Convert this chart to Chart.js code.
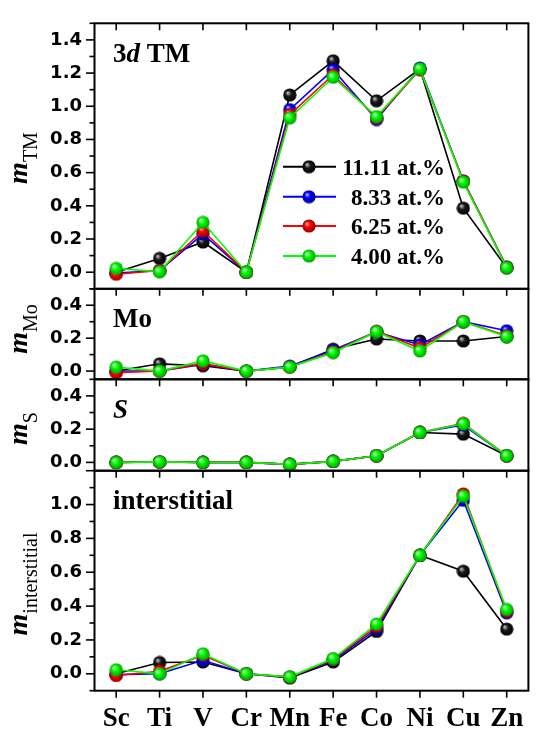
<!DOCTYPE html>
<html><head><meta charset="utf-8">
<script src="https://cdn.jsdelivr.net/npm/chart.js@4.4.1/dist/chart.umd.min.js"></script>
<style>
html,body{margin:0;padding:0;background:#fff;}
#wrap{position:relative;width:537px;height:731px;background:#fff;}
canvas{position:absolute;left:0;top:0;}
</style></head><body><div id="wrap">
<canvas id="c1" width="537" height="731"></canvas>
<canvas id="c2" width="537" height="731"></canvas>
<canvas id="c3" width="537" height="731"></canvas>
<canvas id="c4" width="537" height="731"></canvas>
</div>
<script>
// ---- data ----
const elements = ['Sc','Ti','V','Cr','Mn','Fe','Co','Ni','Cu','Zn'];
const seriesNames = ['11.11 at.%','8.33 at.%','6.25 at.%','4.00 at.%'];

const tm_1111 = [0.00, 0.083, 0.182, 0.00, 1.068, 1.274, 1.033, 1.225, 0.386, 0.027];
const tm_833  = [-0.005, 0.010, 0.230, 0.00, 0.980, 1.220, 0.920, 1.230, 0.550, 0.030];
const tm_625  = [-0.012, 0.010, 0.250, 0.00, 0.950, 1.190, 0.930, 1.220, 0.550, 0.030];
const tm_400  = [0.023, 0.003, 0.300, 0.00, 0.930, 1.175, 0.938, 1.225, 0.543, 0.027];

const mo_1111 = [0.00, 0.044, 0.032, 0.00, 0.025, 0.133, 0.195, 0.183, 0.183, 0.210];
const mo_833  = [0.00, 0.000, 0.040, 0.00, 0.030, 0.128, 0.238, 0.159, 0.300, 0.245];
const mo_625  = [-0.010, 0.000, 0.045, 0.00, 0.025, 0.118, 0.242, 0.140, 0.300, 0.215];
const mo_400  = [0.024, 0.000, 0.062, 0.00, 0.024, 0.112, 0.239, 0.122, 0.300, 0.209];

const s_1111 = [0.00, 0.003, 0.00, 0.00, -0.012, 0.006, 0.040, 0.180, 0.170, 0.040];
const s_833  = [0.00, 0.003, 0.00, 0.00, -0.012, 0.006, 0.040, 0.180, 0.225, 0.040];
const s_625  = [0.00, 0.003, 0.00, 0.00, -0.012, 0.006, 0.040, 0.180, 0.235, 0.040];
const s_400  = [0.00, 0.003, 0.00, 0.00, -0.012, 0.006, 0.040, 0.180, 0.232, 0.040];

const int_1111 = [0.00, 0.067, 0.070, 0.00, -0.025, 0.070, 0.250, 0.700, 0.606, 0.264];
const int_833  = [-0.005, 0.000, 0.080, 0.00, -0.020, 0.080, 0.265, 0.700, 1.025, 0.360];
const int_625  = [-0.010, 0.015, 0.110, 0.00, -0.020, 0.085, 0.280, 0.700, 1.063, 0.370];
const int_400  = [0.024, 0.000, 0.118, 0.00, -0.018, 0.090, 0.294, 0.700, 1.050, 0.380];

const tmTicks  = [0.0, 0.2, 0.4, 0.6, 0.8, 1.0, 1.2, 1.4];
const moTicks  = [0.0, 0.2, 0.4];
const sTicks   = [0.0, 0.2, 0.4];
const intTicks = [0.0, 0.2, 0.4, 0.6, 0.8, 1.0];

// ---- styles ----
const colors = ['#000000', '#0000ff', '#ff0000', '#00ff00'];
const sphereSpec = [
  ['#c8c8c8', '#1a1a1a', '#000000'],
  ['#b0b0ff', '#0000ff', '#000090'],
  ['#ffb0b0', '#ff0000', '#960000'],
  ['#e0ffe0', '#00ff00', '#00a000']
];
function sphere(spec) {
  const c = document.createElement('canvas');
  c.width = 14; c.height = 14;
  const g = c.getContext('2d');
  const grd = g.createRadialGradient(4.8, 4.6, 0.3, 7, 7, 6.8);
  grd.addColorStop(0, spec[0]);
  grd.addColorStop(0.4, spec[1]);
  grd.addColorStop(1, spec[2]);
  g.fillStyle = grd;
  g.beginPath(); g.arc(7, 7, 6.6, 0, Math.PI * 2); g.fill();
  return c;
}
const spheres = sphereSpec.map(sphere);

const SERIF = '"Liberation Serif", "Times New Roman", serif';
const W = 537, H = 731;
const LEFT = 94.5, RIGHT_PAD = 1.5;

const panels = [
  {id: 'c1', series: [tm_1111, tm_833, tm_625, tm_400], ticks: tmTicks, min: -0.1, max: 1.5,
   top: 13.5, bottom: 288.8, sub: 'TM', titleY: 158, label: '3d'},
  {id: 'c2', series: [mo_1111, mo_833, mo_625, mo_400], ticks: moTicks, min: -0.05, max: 0.5,
   top: 288.8, bottom: 379.3, sub: 'Mo', titleY: 329, label: 'Mo'},
  {id: 'c3', series: [s_1111, s_833, s_625, s_400], ticks: sTicks, min: -0.05, max: 0.5,
   top: 379.3, bottom: 470.7, sub: 'S', titleY: 428.5, label: 'S'},
  {id: 'c4', series: [int_1111, int_833, int_625, int_400], ticks: intTicks, min: -0.1, max: 1.2,
   top: 470.7, bottom: 690.7, sub: 'interstitial', titleY: 584, label: 'interstitial', showX: true}
];

function line(ctx, x1, y1, x2, y2) { ctx.beginPath(); ctx.moveTo(x1, y1); ctx.lineTo(x2, y2); ctx.stroke(); }

function drawYTitle(ctx, sub, cy) {
  ctx.save();
  ctx.translate(27, cy);
  ctx.rotate(-Math.PI / 2);
  const mFont = 'italic bold 28px ' + SERIF, sFont = '20px ' + SERIF;
  ctx.font = mFont; const wm = ctx.measureText('m').width;
  ctx.font = sFont; const ws = ctx.measureText(sub).width;
  const x0 = -(wm + ws) / 2;
  ctx.fillStyle = '#000'; ctx.textAlign = 'left'; ctx.textBaseline = 'alphabetic';
  ctx.font = mFont; ctx.fillText('m', x0, 0);
  ctx.font = sFont; ctx.fillText(sub, x0 + wm, 10);
  ctx.restore();
}

function drawPanelLabel(ctx, p, ca) {
  ctx.save();
  ctx.fillStyle = '#000'; ctx.textAlign = 'left'; ctx.textBaseline = 'alphabetic';
  const x = 113, y = ca.top + 38.5;
  if (p.label === '3d') {
    ctx.font = 'bold 27px ' + SERIF; ctx.fillText('3', x, y);
    let w = ctx.measureText('3').width;
    ctx.font = 'italic bold 27px ' + SERIF; ctx.fillText('d', x + w, y);
    w += ctx.measureText('d').width;
    ctx.font = 'bold 27px ' + SERIF; ctx.fillText(' TM', x + w, y);
  } else if (p.label === 'S') {
    ctx.font = 'italic bold 27px ' + SERIF; ctx.fillText('S', x, y);
  } else {
    ctx.font = 'bold 27px ' + SERIF; ctx.fillText(p.label, x, y);
  }
  ctx.restore();
}

function drawLegend(ctx) {
  const rows = [166.7, 196.7, 226, 256];
  ctx.save();
  ctx.font = 'bold 23px ' + SERIF; ctx.textAlign = 'right'; ctx.textBaseline = 'alphabetic';
  rows.forEach((y, i) => {
    ctx.strokeStyle = colors[i]; ctx.lineWidth = 2;
    line(ctx, 283, y, 336, y);
    ctx.drawImage(spheres[i], 309 - 7, y - 7);
    ctx.fillStyle = '#000';
    ctx.fillText(seriesNames[i], 445, y + 8);
  });
  ctx.restore();
}

function framePlugin(p, idx) {
  return {
    id: 'frame' + idx,
    afterDraw(chart) {
      const ctx = chart.ctx, ca = chart.chartArea, xs = chart.scales.x, ys = chart.scales.y;
      ctx.save();
      ctx.strokeStyle = '#000'; ctx.lineWidth = 2;
      ctx.strokeRect(ca.left, ca.top, ca.right - ca.left, ca.bottom - ca.top);
      ctx.lineWidth = 1.6;
      elements.forEach((e, i) => {
        const x = xs.getPixelForValue(i);
        line(ctx, x, ca.top, x, ca.top + 7);
        if (p.showX) line(ctx, x, ca.bottom, x, ca.bottom + 7);
      });
      const k0 = Math.ceil(p.min * 10 - 1e-6), k1 = Math.floor(p.max * 10 + 1e-6);
      for (let k = k0; k <= k1; k++) {
        const y = ys.getPixelForValue(k / 10);
        const len = (Math.abs(k) % 2 === 0) ? 8.5 : 5;
        line(ctx, ca.left - len, y, ca.left, y);
      }
      ctx.restore();
      drawYTitle(ctx, p.sub, p.titleY);
      drawPanelLabel(ctx, p, ca);
      if (idx === 0) drawLegend(ctx);
    }
  };
}

panels.forEach((p, idx) => {
  const xScale = {
    type: 'category', offset: true, display: !!p.showX,
    grid: {display: false, drawTicks: false}, border: {display: false},
    ticks: {font: {family: SERIF, weight: 'bold', size: 27}, color: '#000', padding: 12, maxRotation: 0, autoSkip: false}
  };
  if (p.showX) xScale.afterFit = s => { s.height = H - p.bottom; };
  new Chart(document.getElementById(p.id), {
    type: 'line',
    data: {
      labels: elements,
      datasets: p.series.map((d, i) => ({
        label: seriesNames[i], data: d, borderColor: colors[i], backgroundColor: colors[i],
        borderWidth: 1.6, pointStyle: spheres[i], pointRadius: 7, tension: 0, order: 3 - i, clip: false
      }))
    },
    options: {
      responsive: false, animation: false, events: [], devicePixelRatio: 1,
      layout: {padding: {top: p.top, bottom: p.showX ? 0 : H - p.bottom, left: 0, right: RIGHT_PAD}},
      plugins: {legend: {display: false}, tooltip: {enabled: false}},
      scales: {
        x: xScale,
        y: {
          type: 'linear', min: p.min, max: p.max,
          grid: {display: false, drawTicks: false}, border: {display: false},
          afterFit: s => { s.width = LEFT; },
          afterBuildTicks: s => { s.ticks = p.ticks.map(v => ({value: v})); },
          ticks: {font: {family: '"DejaVu Sans", Arial, sans-serif', weight: 'bold', size: 18}, color: '#000', padding: 12.5,
                  callback: v => Number(v).toFixed(1)}
        }
      }
    },
    plugins: [framePlugin(p, idx)]
  });
});
</script>
</body></html>
